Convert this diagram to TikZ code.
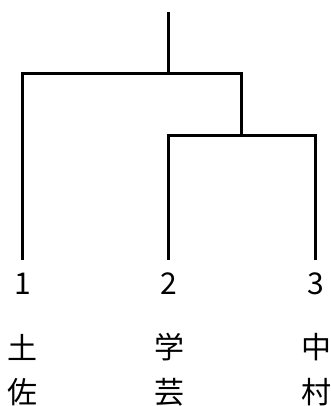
\documentclass[tikz,border=0pt]{standalone}
\usepackage{fontspec}
\newfontfamily\cjk{Noto Sans CJK JP}
\begin{document}
\begin{tikzpicture}[x=1pt,y=-1pt,
  branch/.style={line width=3pt,line cap=butt},
  lbl/.style={font=\cjk\fontsize{30}{32}\selectfont,inner sep=0pt,anchor=center}]
\useasboundingbox (0,0) rectangle (331,406);
\coordinate (top) at (168,12);
\coordinate (j1) at (168,74);
\coordinate (l1) at (22,74);
\coordinate (r1) at (241,74);
\coordinate (j2) at (241,136);
\coordinate (l2) at (168,136);
\coordinate (r2) at (315,136);
\coordinate (a) at (22,260);
\coordinate (b) at (168,260);
\coordinate (c) at (315,260);
\draw[branch] (top) -- (j1);
\draw[branch] (a) -- (l1) -- (r1) -- (j2);
\draw[branch] (b) -- (l2) -- (r2) -- (c);
\node[lbl] (n1) at (23,284) {1};
\node[lbl] (n2) at (169,284) {2};
\node[lbl] (n3) at (316,284) {3};
\node[lbl] (t1) at (23,347) {土};
\node[lbl] (t2) at (169,347) {学};
\node[lbl] (t3) at (316,347) {中};
\node[lbl] (u1) at (23,392) {佐};
\node[lbl] (u2) at (169,392) {芸};
\node[lbl] (u3) at (316,392) {村};
\end{tikzpicture}
\end{document}
